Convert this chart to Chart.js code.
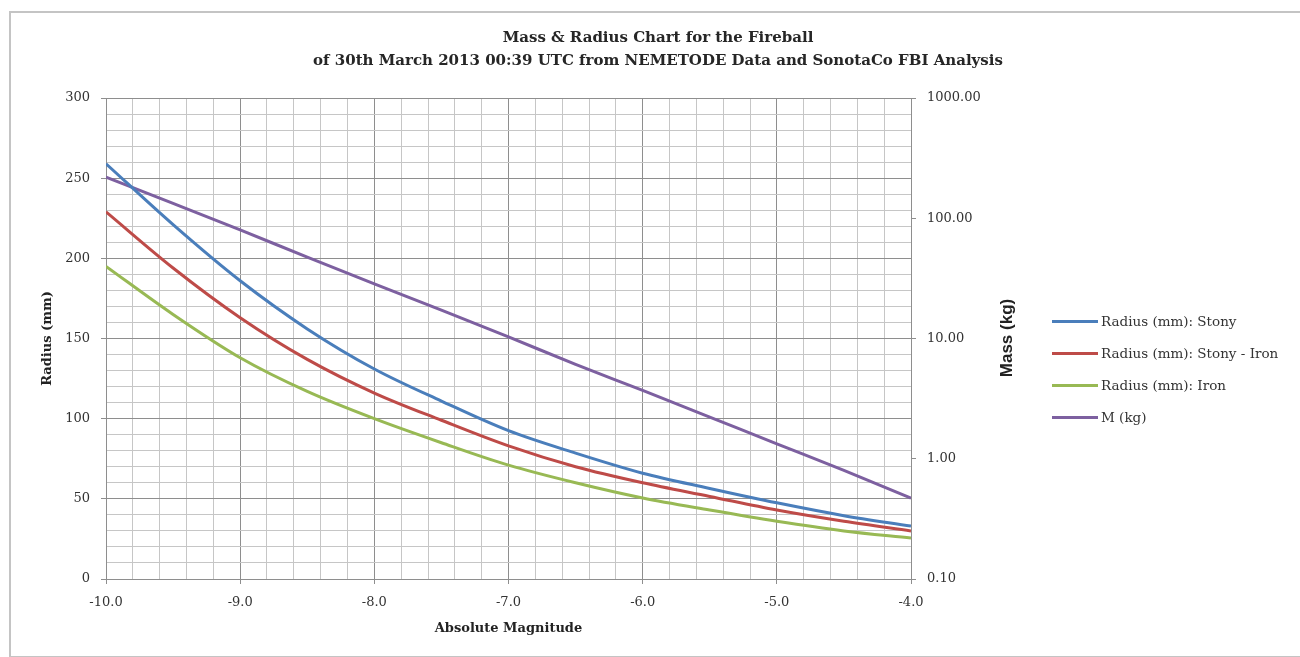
<!DOCTYPE html>
<html>
<head>
<meta charset="utf-8">
<script src="https://cdn.jsdelivr.net/npm/chart.js@4.4.1/dist/chart.umd.min.js"></script>
<style>
  body { margin: 0; background: #fff; }
  #wrap { position: relative; width: 1300px; height: 657px; overflow: hidden; background: #fff; }
  #frame { position: absolute; left: 9px; top: 11px; width: 1400px; height: 643px; border: 2px solid #c4c4c4; }
  #fireball-chart { position: absolute; left: 0; top: 0; }
  #title { position: absolute; left: 258px; width: 800px; top: 26px; text-align: center;
    font: bold 15px "DejaVu Serif"; color: #262626; line-height: 23px; white-space: nowrap; }
  #mass-title { position: absolute; left: 1007px; top: 338px; transform: translate(-50%, -50%) rotate(-90deg);
    font: bold 17px "Liberation Sans"; color: #222; white-space: nowrap; }
  #legend { position: absolute; left: 1052px; top: 305px; font: 13.5px "DejaVu Serif"; color: #333; }
  #legend .item { height: 32px; display: flex; align-items: center; }
  #legend .swatch { width: 46px; height: 3px; margin-right: 3px; }
</style>
</head>
<body>
<div id="wrap">
  <div id="frame"></div>
  <canvas id="fireball-chart" width="1300" height="657"></canvas>
  <div id="title">Mass &amp; Radius Chart for the Fireball<br>of 30th March 2013 00:39 UTC from NEMETODE Data and SonotaCo FBI Analysis</div>
  <div id="mass-title">Mass (kg)</div>
  <div id="legend"></div>
</div>
<script>
// values
const magnitudes = [-10, -9.5, -9, -8.5, -8, -7.5, -7, -6.5, -6, -5.5, -5, -4.5, -4];
const radiusStony = [259, 221, 186, 156, 131, 111, 92.5, 78.5, 66, 56.5, 47.5, 39.5, 33];
const radiusStonyIron = [229, 194, 163, 137, 116, 99, 83, 70, 60, 51.5, 43, 36, 30];
const radiusIron = [195, 165, 138, 117, 100, 85, 71, 60, 50.5, 43, 36, 30, 25.6];
const massKg = [220, 133, 80, 47.5, 28.5, 17.2, 10.3, 6.1, 3.7, 2.22, 1.33, 0.8, 0.47];

const seriesNames = ['Radius (mm): Stony', 'Radius (mm): Stony - Iron', 'Radius (mm): Iron', 'M (kg)'];
const seriesColors = ['#4a7ebb', '#be4b48', '#98b954', '#7d60a0'];

const minorGrid = '#c6c6c6';
const majorGrid = '#8e8e8e';
const tickFont = { family: 'DejaVu Serif', size: 13 };

function points(values) {
  return magnitudes.map((m, i) => ({ x: m, y: values[i] }));
}

function isWhole(v, step) {
  let r = v / step;
  return Math.abs(r - Math.round(r)) < 1e-6;
}

function isDecade(v) {
  let l = Math.log10(v);
  return Math.abs(l - Math.round(l)) < 1e-6;
}

let data = {
  datasets: [
    { label: seriesNames[0], data: points(radiusStony), yAxisID: 'y' },
    { label: seriesNames[1], data: points(radiusStonyIron), yAxisID: 'y' },
    { label: seriesNames[2], data: points(radiusIron), yAxisID: 'y' },
    { label: seriesNames[3], data: points(massKg), yAxisID: 'y2' }
  ]
};
data.datasets.forEach((ds, i) => {
  ds.borderColor = seriesColors[i];
  ds.backgroundColor = seriesColors[i];
  ds.borderWidth = 3;
  ds.pointRadius = 0;
  ds.cubicInterpolationMode = 'monotone';
});

var ctx = document.getElementById('fireball-chart').getContext('2d');
var fireballChart = new Chart(ctx, {
  type: 'line',
  data: data,
  options: {
    responsive: false,
    animation: false,
    layout: { padding: { left: 30, right: 289, top: 98, bottom: 8 } },
    plugins: { legend: { display: false }, tooltip: { enabled: false } },
    scales: {
      x: {
        type: 'linear',
        min: -10,
        max: -4,
        afterFit: (s) => { s.height = 70; },
        ticks: {
          stepSize: 0.2,
          autoSkip: false,
          maxRotation: 0,
          padding: 11,
          color: '#333',
          font: tickFont,
          callback: (v) => isWhole(v, 1) ? v.toFixed(1) : ''
        },
        grid: {
          tickLength: 5,
          color: (c) => isWhole(c.tick.value, 1) ? majorGrid : minorGrid,
          tickColor: (c) => isWhole(c.tick.value, 1) ? majorGrid : 'rgba(0,0,0,0)'
        },
        border: { color: majorGrid },
        title: {
          display: true,
          text: 'Absolute Magnitude',
          color: '#222',
          font: { family: 'DejaVu Serif', size: 13, weight: 'bold' },
          padding: { top: 0, bottom: 13 }
        }
      },
      y: {
        position: 'left',
        min: 0,
        max: 300,
        afterFit: (s) => { s.width = 76; },
        ticks: {
          stepSize: 10,
          autoSkip: false,
          padding: 11,
          color: '#333',
          font: tickFont,
          callback: (v) => isWhole(v, 50) ? v : ''
        },
        grid: {
          tickLength: 5,
          color: (c) => isWhole(c.tick.value, 50) ? majorGrid : minorGrid,
          tickColor: (c) => isWhole(c.tick.value, 50) ? majorGrid : 'rgba(0,0,0,0)'
        },
        border: { color: majorGrid },
        title: {
          display: true,
          text: 'Radius (mm)',
          color: '#222',
          font: { family: 'DejaVu Serif', size: 13, weight: 'bold' },
          padding: { top: 10, bottom: 0 }
        }
      },
      y2: {
        type: 'logarithmic',
        position: 'right',
        min: 0.1,
        max: 1000,
        afterFit: (s) => { s.width = 100; },
        ticks: {
          autoSkip: false,
          padding: 11,
          color: '#333',
          font: tickFont,
          callback: (v) => isDecade(v) ? Number(v).toFixed(2) : ''
        },
        grid: {
          drawOnChartArea: false,
          tickLength: 5,
          tickColor: (c) => isDecade(c.tick.value) ? majorGrid : 'rgba(0,0,0,0)'
        },
        border: { color: majorGrid }
      }
    }
  }
});

// legend on the right, built from the datasets
let legendBox = document.getElementById('legend');
fireballChart.data.datasets.forEach((ds) => {
  let item = document.createElement('div');
  item.className = 'item';
  let swatch = document.createElement('span');
  swatch.className = 'swatch';
  swatch.style.background = ds.borderColor;
  let label = document.createElement('span');
  label.textContent = ds.label;
  item.appendChild(swatch);
  item.appendChild(label);
  legendBox.appendChild(item);
});
</script>
</body>
</html>
